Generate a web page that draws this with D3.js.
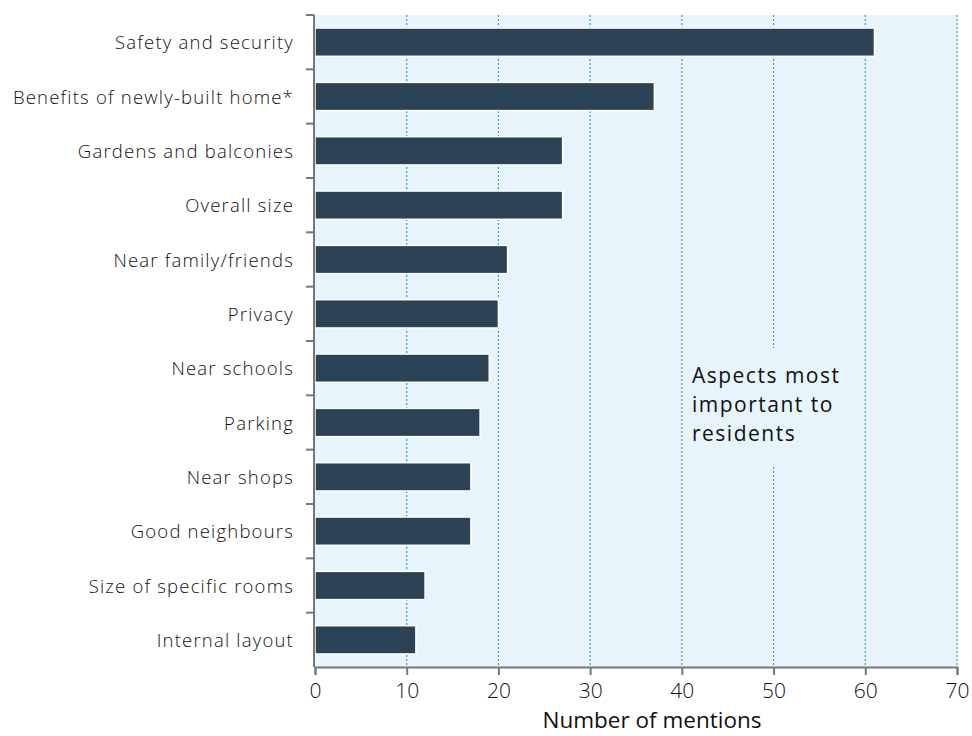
<!DOCTYPE html>
<html>
<head>
<meta charset="utf-8">
<script src="https://cdn.jsdelivr.net/npm/d3@7"></script>
<style>
  html, body { margin: 0; padding: 0; background: #fff; }
  svg { display: block; }
  text { font-family: "Open Sans", Lato, sans-serif; }
</style>
</head>
<body>
<svg id="chart" width="972" height="736"></svg>
<script>
// Aspects of the home mentioned by residents
const categories = [
  "Safety and security",
  "Benefits of newly-built home*",
  "Gardens and balconies",
  "Overall size",
  "Near family/friends",
  "Privacy",
  "Near schools",
  "Parking",
  "Near shops",
  "Good neighbours",
  "Size of specific rooms",
  "Internal layout"
];
const mentions = [61, 37, 27, 27, 21, 20, 19, 18, 17, 17, 12, 11];
const xTicks = [0, 10, 20, 30, 40, 50, 60, 70];
const xTitle = "Number of mentions";
const noteLines = ["Aspects most", "important to", "residents"];

const svg = d3.select("#chart");
const margin = { left: 315, right: 15, top: 15, bottom: 69 };
const W = 972, H = 736;
const innerW = W - margin.left - margin.right;
const innerH = H - margin.top - margin.bottom;

const x = d3.scaleLinear().domain([0, 70]).range([0, innerW]);
const y = d3.scaleBand().domain(categories).range([0, innerH]).paddingInner(0.48).paddingOuter(0.24);

const g = svg.append("g").attr("transform", `translate(${margin.left},${margin.top})`);

// plot background
g.append("rect")
  .attr("x", 0).attr("y", 0)
  .attr("width", innerW).attr("height", innerH)
  .attr("fill", "#e8f4fc");

// dotted vertical gridlines
g.append("g").selectAll("line")
  .data(xTicks.filter(d => d > 0))
  .join("line")
  .attr("x1", d => x(d)).attr("x2", d => x(d))
  .attr("y1", 0).attr("y2", innerH)
  .attr("stroke", "#3b98c4")
  .attr("stroke-width", 1.2)
  .attr("stroke-dasharray", "2,2");

// bars
g.append("g").selectAll("rect")
  .data(categories)
  .join("rect")
  .attr("x", 0)
  .attr("y", d => y(d))
  .attr("width", (d, i) => x(mentions[i]))
  .attr("height", y.bandwidth())
  .attr("fill", "#2c4255")
  .attr("stroke", "#ffffff")
  .attr("stroke-width", 1.5);

// annotation with a background panel that hides the gridline behind it
const note = g.append("g").attr("transform", `translate(${x(41.1)},${383 - margin.top})`);
note.append("rect")
  .attr("x", -6).attr("y", -35)
  .attr("width", 175).attr("height", 119)
  .attr("fill", "#e8f4fc");
note.selectAll("text")
  .data(noteLines)
  .join("text")
  .attr("x", 0)
  .attr("y", (d, i) => i * 29.2)
  .attr("font-size", 21)
  .attr("letter-spacing", 1.5)
  .attr("fill", "#111")
  .text(d => d);

// y axis: ticks at category boundaries
const yAxisG = g.append("g");
yAxisG.append("line")
  .attr("x1", -1).attr("x2", -1)
  .attr("y1", 0).attr("y2", innerH)
  .attr("stroke", "#777").attr("stroke-width", 2);
const step = y.step();
const bounds = d3.range(categories.length).map(i => y(categories[i]) - (step - y.bandwidth()) / 2);
yAxisG.selectAll("line.tick")
  .data(bounds)
  .join("line")
  .attr("class", "tick")
  .attr("x1", -9).attr("x2", -1)
  .attr("y1", d => d).attr("y2", d => d)
  .attr("stroke", "#777").attr("stroke-width", 2);

// category labels
g.append("g").selectAll("text")
  .data(categories)
  .join("text")
  .attr("x", -21)
  .attr("y", d => y(d) + y.bandwidth() / 2)
  .attr("dy", "0.38em")
  .attr("text-anchor", "end")
  .attr("font-size", 18.5)
  .attr("font-weight", 300)
  .attr("letter-spacing", 1.2)
  .attr("fill", "#111")
  .text(d => d);

// x axis
const xAxis = d3.axisBottom(x).tickValues(xTicks).tickSize(8).tickPadding(8);
const xg = g.append("g").attr("transform", `translate(0,${innerH})`).call(xAxis);
xg.select(".domain").attr("stroke", "#777").attr("stroke-width", 2);
xg.selectAll(".tick line").attr("stroke", "#777").attr("stroke-width", 2);
xg.selectAll(".tick text")
  .attr("font-size", 21)
  .attr("font-weight", 300)
  .attr("font-family", "'Open Sans', Lato, sans-serif")
  .attr("fill", "#111");

// x axis title
g.append("text")
  .attr("x", innerW / 2 + 16)
  .attr("y", 728 - margin.top)
  .attr("text-anchor", "middle")
  .attr("font-size", 22.5)
  .attr("fill", "#111")
  .text(xTitle);
</script>
</body>
</html>
